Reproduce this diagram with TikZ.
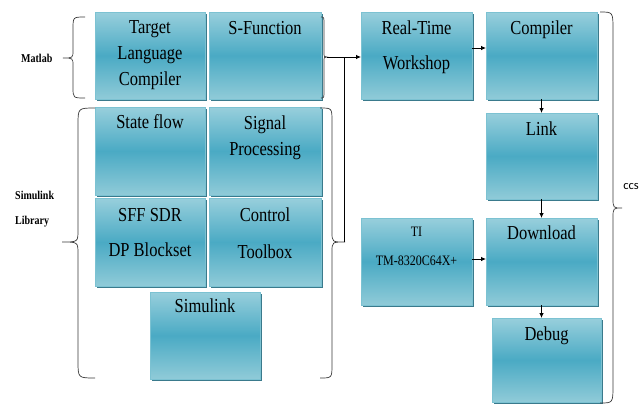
\documentclass[tikz,border=0pt]{standalone}
\usepackage{fontspec}
\setmainfont{Liberation Serif}
\newfontfamily\ccsfont{Carlito}
\usetikzlibrary{arrows.meta,shadows}
\definecolor{ctop}{HTML}{98CFDC}
\definecolor{cmid}{HTML}{4AAAC4}
\definecolor{cbot}{HTML}{90CBD8}
\definecolor{cedge}{HTML}{7CC2D2}
\definecolor{cshad}{HTML}{3A7A8C}
\definecolor{cline}{HTML}{3A3A3A}
\newcommand\vl[1]{\scalebox{1}[1.2]{#1}}
\tikzset{
  box/.style={rectangle, draw=cedge, line width=0.6pt, anchor=north west,
    top color=ctop, bottom color=cbot, middle color=cmid,
    inner sep=0pt, outer sep=0pt,
    general shadow={fill=cshad, shadow xshift=1.8pt, shadow yshift=-1.8pt}},
  txt/.style={anchor=north, inner sep=0pt, align=center,
    font=\fontsize{16.5}{#1}\selectfont},
  small/.style={anchor=north, inner sep=0pt, align=center,
    font=\fontsize{12}{29}\selectfont},
  side/.style={anchor=west, inner sep=0pt, font=\fontsize{10}{11}\selectfont\bfseries},
  brc/.style={draw=cline, line width=0.7pt},
  arr/.style={draw=black, line width=0.8pt, -{Latex[length=5pt,width=4.5pt]}},
  ln/.style={draw=black, line width=0.8pt}
}
\begin{document}
\begin{tikzpicture}[x=1pt,y=-1pt]
\useasboundingbox (0,0) rectangle (644,405);
\fill[white] (0,0) rectangle (644,405);
% boxes
\node[box, minimum width=110pt, minimum height=87pt] (tlc) at (95,12) {};
\node[box, minimum width=112pt, minimum height=87pt] (sfun) at (209,12) {};
\node[box, minimum width=110pt, minimum height=88pt] (sflow) at (95,107) {};
\node[box, minimum width=112pt, minimum height=88pt] (sigp) at (209,107) {};
\node[box, minimum width=110pt, minimum height=88pt] (sff) at (95,198) {};
\node[box, minimum width=112pt, minimum height=88pt] (ctrl) at (209,198) {};
\node[box, minimum width=110pt, minimum height=87pt] (simu) at (150,292) {};
\node[box, minimum width=111pt, minimum height=87pt] (rtw) at (361,12) {};
\node[box, minimum width=111pt, minimum height=87pt] (comp) at (486,12) {};
\node[box, minimum width=111pt, minimum height=86pt] (link) at (486,113) {};
\node[box, minimum width=111pt, minimum height=87pt] (ti) at (361,218) {};
\node[box, minimum width=111pt, minimum height=87pt] (dl) at (486,218) {};
\node[box, minimum width=109pt, minimum height=84pt] (dbg) at (492,318) {};
% texts
\node[txt=26] (ttlc) at (150,20) {\vl{Target}\\\vl{Language}\\\vl{Compiler}};
\node[txt=26] (tsfun) at (265,21) {\vl{S-Function}};
\node[txt=26] (tsflow) at (150,114) {\vl{State flow}};
\node[txt=26] (tsigp) at (265,116) {\vl{Signal}\\\vl{Processing}};
\node[txt=35] (tsff) at (150,208) {\vl{SFF SDR}\\\vl{DP Blockset}};
\node[txt=37] (tctrl) at (265,208) {\vl{Control}\\\vl{Toolbox}};
\node[txt=26] (tsimu) at (205,299) {\vl{Simulink}};
\node[txt=35] (trtw) at (416.5,21) {\vl{Real-Time}\\\vl{Workshop}};
\node[txt=26] (tcomp) at (541.5,21) {\vl{Compiler}};
\node[txt=26] (tlink) at (541.5,122) {\vl{Link}};
\node[small] (tti) at (416.5,227) {\vl{TI}\\\vl{TM-8320C64X+}};
\node[txt=26] (tdl) at (541.5,226) {\vl{Download}};
\node[txt=26] (tdbg) at (546.5,327) {\vl{Debug}};
% side labels
\node[side] (lmat) at (21,58) {\vl{Matlab}};
\node[side] (lsim) at (15,195) {\vl{Simulink}};
\node[side] (llib) at (15,222) {\vl{Library}};
\node[inner sep=0pt, font=\fontsize{12.5}{13}\selectfont\ccsfont] (lccs) at (631,187) {ccs};
% braces
\draw[brc] (85,17) .. controls (73,17) .. (73,29) -- (73,50) .. controls (73,58) .. (63,58)
  .. controls (73,58) .. (73,66) -- (73,87) .. controls (73,98) .. (85,98);
\draw[brc] (95,108) .. controls (78,108) .. (78,125) -- (78,230) .. controls (78,242) .. (62,242)
  .. controls (78,242) .. (78,254) -- (78,361) .. controls (78,378) .. (95,378);
\draw[brc] (320,108) .. controls (332,108) .. (332,122) -- (332,232) .. controls (332,242) .. (345,242)
  .. controls (332,242) .. (332,252) -- (332,364) .. controls (332,378) .. (320,378);
\draw[brc] (321,17) .. controls (324,17) .. (324,25) -- (324,52) .. controls (324,57) .. (327,57)
  .. controls (324,57) .. (324,62) -- (324,90) .. controls (324,98) .. (321,98);
\draw[brc] (600,12) .. controls (613,12) .. (613,30) -- (613,198) .. controls (613,208) .. (622,208)
  .. controls (613,208) .. (613,218) -- (613,385) .. controls (613,403) .. (600,403);
\coordinate (sftip) at (327,57);
\coordinate (sltip) at (344,242);
% connectors
\draw[arr] (sftip) -- (sftip -| rtw.west);
\draw[ln] (sltip) -- (sltip |- sftip);
\draw[arr] ([yshift=7.5pt]rtw.east) -- ([yshift=7.5pt]comp.west);
\draw[arr] (comp.south) -- (link.north);
\draw[arr] (link.south) -- (dl.north);
\draw[arr] ([yshift=2.5pt]ti.east) -- ([yshift=2.5pt]dl.west);
\draw[arr] (dl.south) -- (dl.south |- dbg.north);
\end{tikzpicture}
\end{document}
